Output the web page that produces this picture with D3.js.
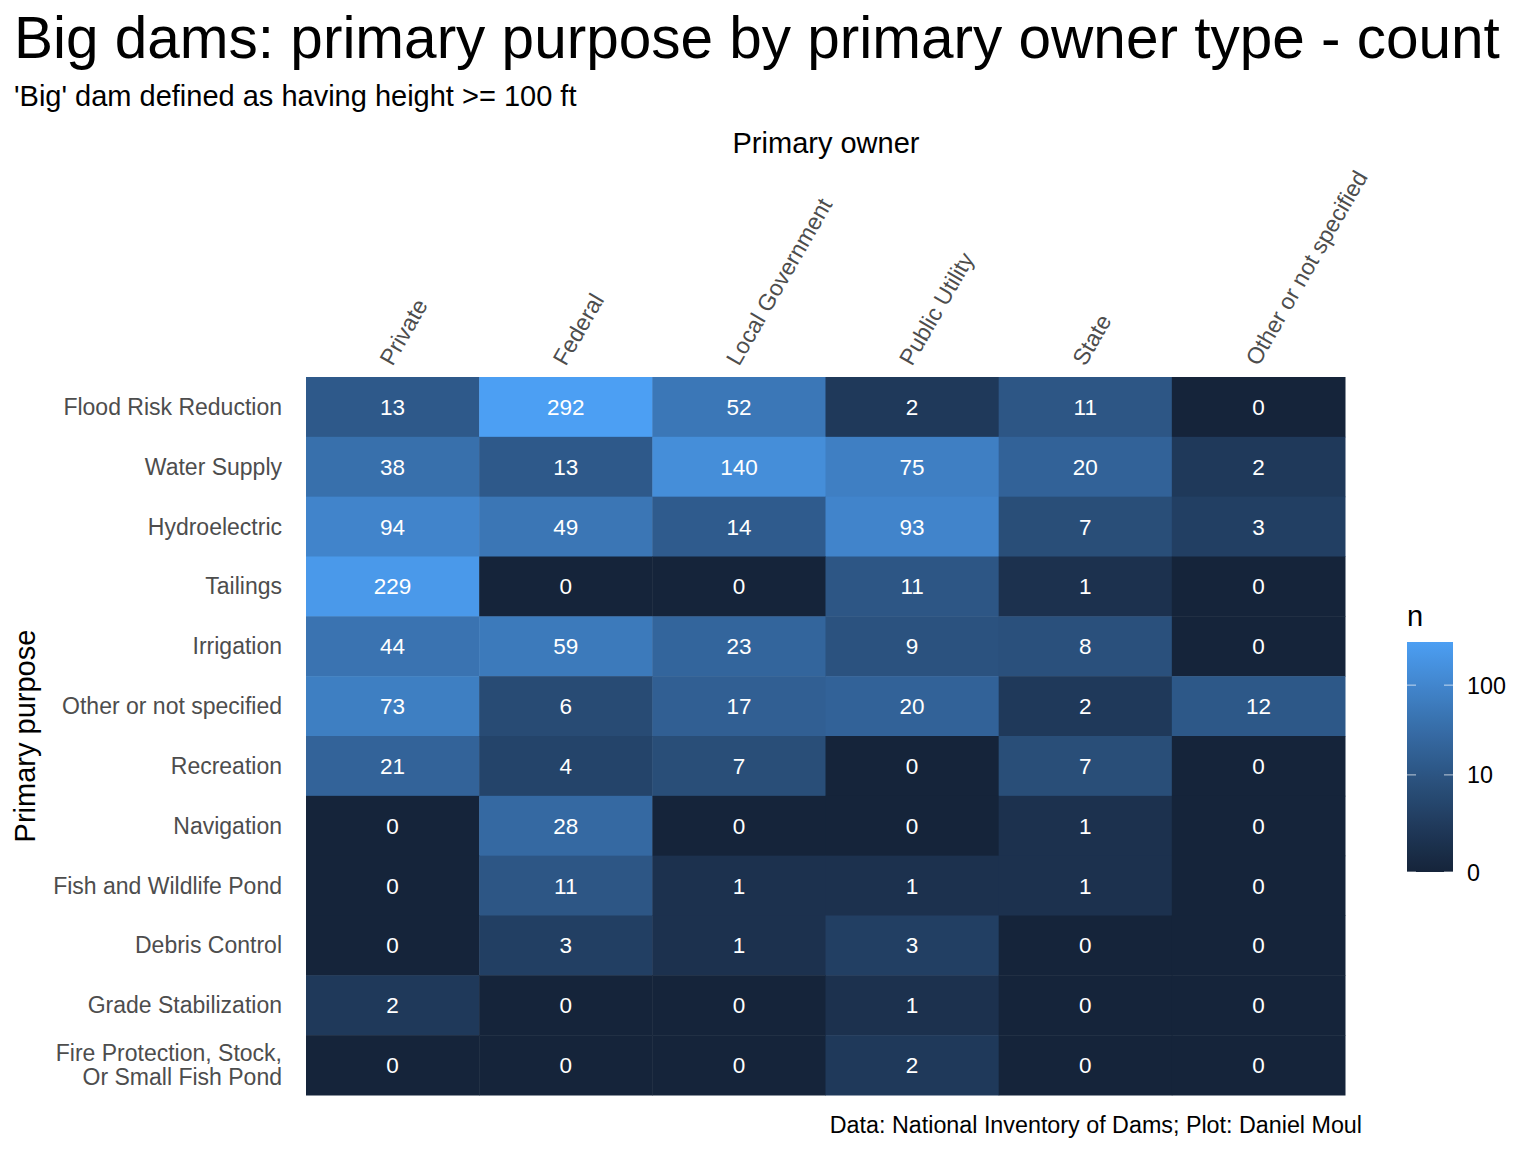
<!DOCTYPE html>
<html>
<head>
<meta charset="utf-8">
<script src="https://cdn.jsdelivr.net/npm/d3@7"></script>
<style>
body{margin:0;background:#fff;}
svg text{font-family:"Liberation Sans",Arial,Helvetica,sans-serif;}
</style>
</head>
<body>
<script>
const owners = ["Private","Federal","Local Government","Public Utility","State","Other or not specified"];
const purposes = ["Flood Risk Reduction","Water Supply","Hydroelectric","Tailings","Irrigation","Other or not specified","Recreation","Navigation","Fish and Wildlife Pond","Debris Control","Grade Stabilization","Fire Protection, Stock,\nOr Small Fish Pond"];
// counts: rows = purposes, cols = owners
const counts = [
  [13,292,52,2,11,0],
  [38,13,140,75,20,2],
  [94,49,14,93,7,3],
  [229,0,0,11,1,0],
  [44,59,23,9,8,0],
  [73,6,17,20,2,12],
  [21,4,7,0,7,0],
  [0,28,0,0,1,0],
  [0,11,1,1,1,0],
  [0,3,1,3,0,0],
  [2,0,0,1,0,0],
  [0,0,0,2,0,0]
];
const legendTicks = [0,10,100];

const W=1536,H=1152;
const svg=d3.select("body").append("svg").attr("width",W).attr("height",H);

const x=d3.scaleBand().domain(owners).range([306,1345]).padding(0);
const y=d3.scaleBand().domain(purposes).range([377,1095]).padding(0);
const maxV=d3.max(counts.flat());
const t=d3.scaleLinear().domain([0,Math.log1p(maxV)]).range([0,1]);
const interp=d3.interpolateLab("#15243A","#4C9FF3");
const color=v=>interp(t(Math.log1p(v)));

const cells=[];
purposes.forEach((p,i)=>owners.forEach((o,j)=>cells.push({p,o,v:counts[i][j]})));

svg.append("g").selectAll("rect").data(cells).join("rect")
  .attr("x",d=>x(d.o)).attr("y",d=>y(d.p))
  .attr("width",x.bandwidth()+0.5).attr("height",y.bandwidth()+0.5)
  .attr("fill",d=>color(d.v));

svg.append("g").selectAll("text").data(cells).join("text")
  .attr("x",d=>x(d.o)+x.bandwidth()/2).attr("y",d=>y(d.p)+y.bandwidth()/2+8)
  .attr("text-anchor","middle").attr("fill","#fff").attr("font-size",22.5)
  .text(d=>d.v);

// x labels
svg.append("g").selectAll("text").data(owners).join("text")
  .attr("transform",d=>`translate(${x(d)+x.bandwidth()/2},367) rotate(-60)`)
  .attr("text-anchor","start")
  .attr("fill","#4D4D4D").attr("font-size",23)
  .text(d=>d);

// y labels
const yl=svg.append("g").selectAll("text").data(purposes).join("text")
  .attr("text-anchor","end").attr("fill","#4D4D4D").attr("font-size",23)
  .attr("x",282)
  .attr("y",d=>y(d)+y.bandwidth()/2+8);
yl.each(function(d){
  const lines=d.split("\n");
  const el=d3.select(this);
  if(lines.length===1){el.text(d);}
  else{
    lines.forEach((l,k)=>el.append("tspan").attr("x",282)
      .attr("dy",k===0?"-0.52em":"1.04em").text(l));
  }
});

// titles
svg.append("text").attr("x",14).attr("y",58).attr("font-size",58.5).attr("fill","#000")
  .text("Big dams: primary purpose by primary owner type - count");
svg.append("text").attr("x",14).attr("y",106).attr("font-size",29).attr("fill","#000")
  .text("'Big' dam defined as having height >= 100 ft");
svg.append("text").attr("x",826).attr("y",153).attr("font-size",29).attr("text-anchor","middle").attr("fill","#000")
  .text("Primary owner");
svg.append("text").attr("transform","translate(35,736) rotate(-90)").attr("font-size",29).attr("text-anchor","middle").attr("fill","#000")
  .text("Primary purpose");
svg.append("text").attr("x",1362).attr("y",1133).attr("font-size",23.3).attr("text-anchor","end").attr("fill","#000")
  .text("Data: National Inventory of Dams; Plot: Daniel Moul");

// legend
const lx=1407,lw=46,ltop=642,lbot=872;
const ls=d3.scaleLinear().domain([0,Math.log1p(maxV)]).range([lbot,ltop]);
const defs=svg.append("defs");
const grad=defs.append("linearGradient").attr("id","lg").attr("x1",0).attr("x2",0).attr("y1",1).attr("y2",0);
d3.range(0,1.0001,0.05).forEach(s=>grad.append("stop").attr("offset",s).attr("stop-color",interp(s)));
svg.append("rect").attr("x",lx).attr("y",ltop).attr("width",lw).attr("height",lbot-ltop).attr("fill","url(#lg)");
svg.append("text").attr("x",lx).attr("y",626).attr("font-size",29).attr("fill","#000").text("n");
const lg=svg.append("g");
legendTicks.forEach(v=>{
  const yy=ls(Math.log1p(v));
  lg.append("line").attr("x1",lx).attr("x2",lx+9).attr("y1",yy).attr("y2",yy).attr("stroke","#fff").attr("stroke-opacity",0.7).attr("stroke-width",1);
  lg.append("line").attr("x1",lx+lw-9).attr("x2",lx+lw).attr("y1",yy).attr("y2",yy).attr("stroke","#fff").attr("stroke-opacity",0.7).attr("stroke-width",1);
  lg.append("text").attr("x",1467).attr("y",yy+8.5).attr("font-size",23.3).attr("fill","#000").text(v);
});
</script>
</body>
</html>
